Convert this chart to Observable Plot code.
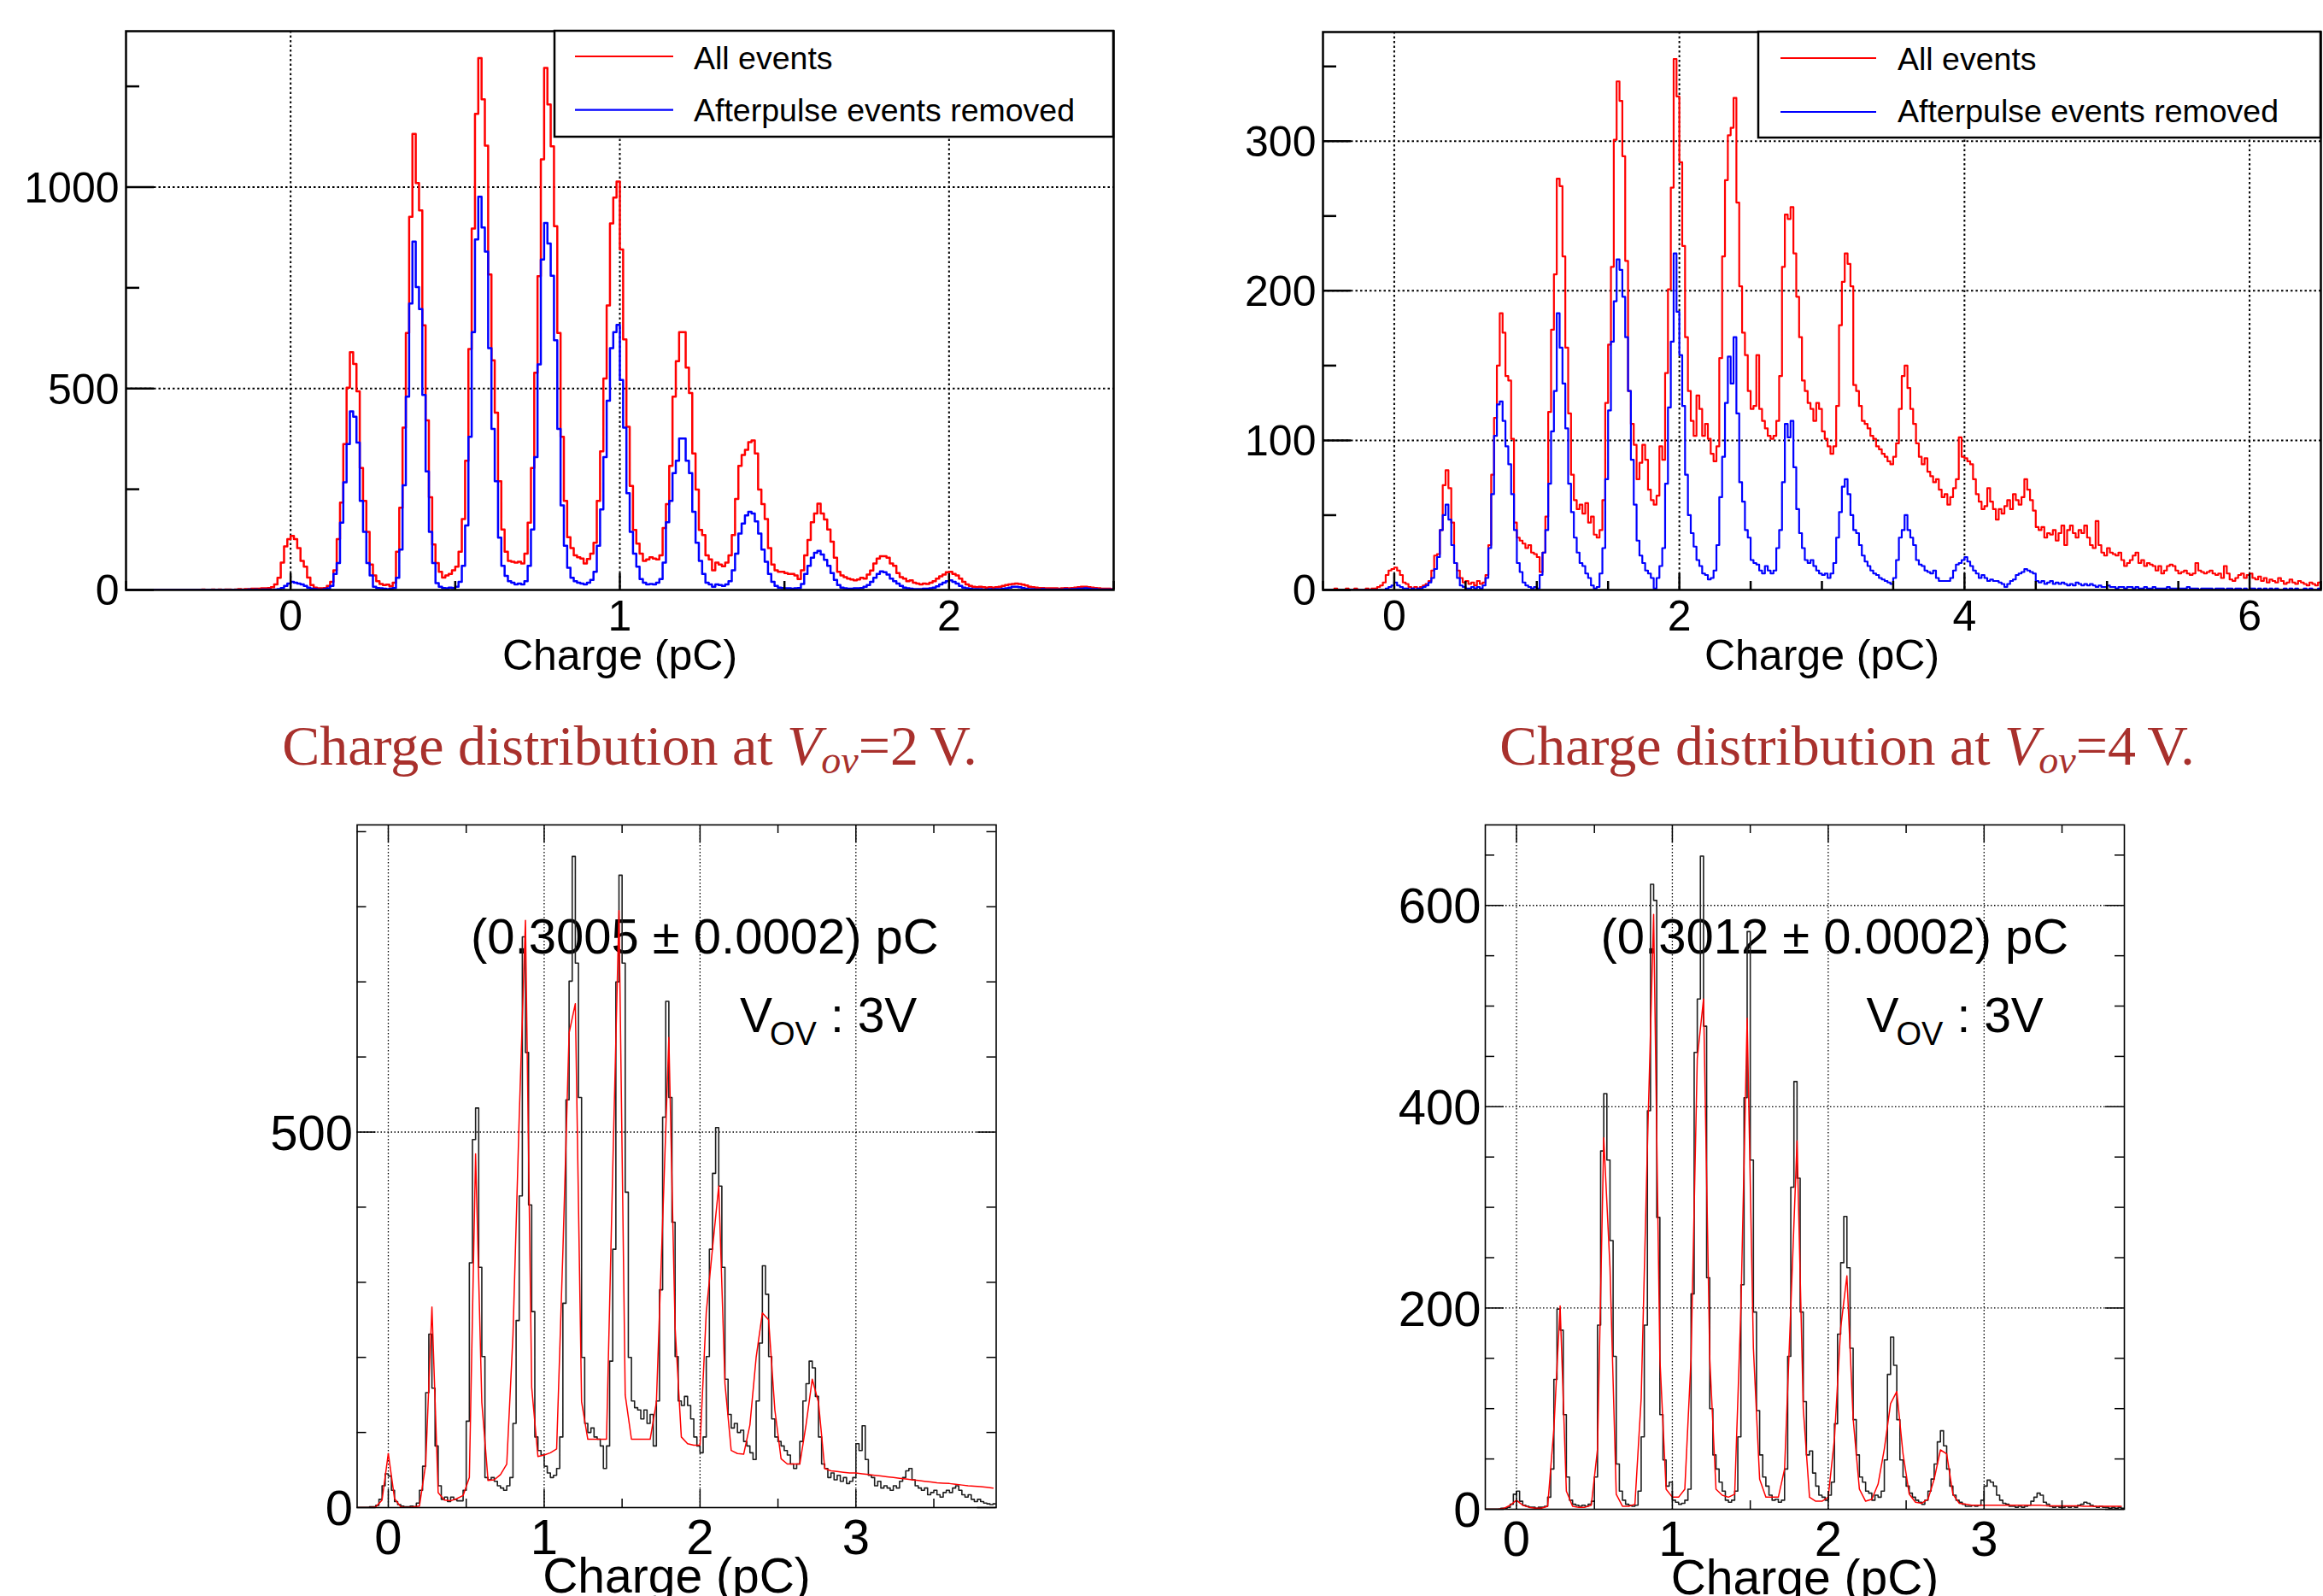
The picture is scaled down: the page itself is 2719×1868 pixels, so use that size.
<!DOCTYPE html>
<html><head><meta charset="utf-8">
<script src="https://cdn.jsdelivr.net/npm/d3@7"></script>
<script src="https://cdn.jsdelivr.net/npm/@observablehq/plot@0.6"></script>
<style>
html,body{margin:0;padding:0;background:#fff;}
#page{position:relative;width:2719px;height:1868px;overflow:hidden;background:#fff;}
</style></head><body><div id="page"></div>
<script>
// ---------------- DATA ----------------
// Top-left panel: charge histograms, bins of 0.01 pC starting at -0.5 pC
const TL_START = -0.5, TL_WIDTH = 0.01;
const tlAll = [
0,0,0,0,0,0,0,0,0,0, 0,0,0,0,0,0,0,0,0,0, 0,0,0,1,0,0,1,0,1,0, 1,1,0,1,2,1,2,2,3,3,
3,4,4,5,7,14,30,68,108,126, 134,126,104,72,58,31,12,6,4,4, 5,10,20,49,126,217,362,502,590,561,
493,303,221,144,63,36,22,15,12,13, 9,18,95,204,403,638,926,1132,1010,942, 657,421,230,113,67,45,31,36,40,49,
58,95,176,321,598,897,1182,1320,1218,1103, 783,570,440,270,150,95,72,70,68,70, 66,90,167,303,539,779,1069,1296,1205,1101,
903,638,380,221,131,104,86,81,78,66, 77,90,117,221,344,525,706,910,974,1014, 845,622,405,258,149,115,90,72,76,81,
78,76,86,154,213,308,480,568,640,640, 552,489,339,249,149,136,86,76,49,68, 63,59,68,86,136,226,308,335,348,367,
371,339,249,213,176,104,63,49,45,45, 42,40,40,36,27,49,86,124,168,190, 214,190,175,150,120,80,45,36,32,28,
26,24,26,30,28,38,48,66,78,84, 84,80,66,60,42,32,28,22,24,18, 16,14,16,15,18,22,28,34,38,44,
45,40,36,28,20,14,10,8,7,8, 7,6,7,6,7,8,10,12,14,15, 16,15,13,11,8,7,6,5,5,4,
4,4,4,3,4,5,4,5,6,7, 8,8,7,6,5,4,3,3,3,2];
const tlRemoved = [
0,0,0,0,0,0,0,0,0,0, 0,0,0,0,0,0,0,0,0,0, 0,0,0,0,0,0,0,0,0,0, 0,0,0,0,0,0,0,1,0,1,
0,1,1,1,0,1,2,5,10,16, 20,18,16,14,10,6,3,2,1,1, 2,4,10,40,67,167,267,362,443,430,
366,221,144,67,36,8,5,4,3,2, 3,5,30,100,260,480,711,865,752,697, 484,294,144,67,17,8,5,4,6,5,
8,20,60,160,380,640,870,976,900,840, 600,400,270,130,60,35,22,18,14,16, 14,22,60,150,330,560,820,911,860,780,
620,400,210,110,55,30,22,18,16,14, 18,25,45,110,200,330,470,600,640,658, 521,403,240,144,90,58,27,18,14,15,
14,18,27,68,168,221,290,321,376,376, 321,290,194,117,72,40,18,14,8,14, 12,10,14,22,49,90,140,165,185,194,
190,170,140,100,70,40,20,10,6,5, 4,4,3,4,5,15,40,60,80,92, 97,88,75,60,42,25,12,6,4,3,
3,4,4,5,8,12,20,30,40,46, 44,38,28,22,16,10,6,4,3,2, 2,2,3,3,4,6,9,14,18,22,
24,20,16,10,6,4,3,2,2,2, 1,1,2,1,2,2,3,4,6,8, 8,7,5,3,2,2,1,1,2,1,
1,1,1,1,1,2,1,2,2,3, 3,4,3,2,2,1,1,1,1,1];

// Top-right panel: bins of 0.02 pC starting at -0.5 pC
const TR_START = -0.5, TR_WIDTH = 0.02;
const trAll = [
0,0,0,0,1,0,0,0,1,0, 0,1,0,0,0,1,0,1,1,2, 3,5,10,13,14,15,13,10,5,4, 2,1,2,1,2,3,4,6,13,23,
24,40,70,80,68,45,18,13,8,5, 6,4,5,3,6,4,5,10,30,77, 115,150,185,172,143,140,101,45,35,33,
31,28,30,25,24,22,12,25,49,119, 174,211,275,270,223,162,118,77,60,54, 57,51,58,45,49,37,35,40,60,125,
164,216,301,340,327,290,220,133,111,97, 74,85,97,87,67,60,57,63,96,87, 145,201,269,355,330,286,230,169,133,113,
103,130,121,103,111,101,91,86,96,155, 223,274,304,309,329,259,203,172,157,133, 121,123,157,121,113,108,103,101,103,113,
143,216,251,248,256,225,196,169,140,133, 125,121,113,125,121,106,101,96,91,96, 123,177,206,225,218,203,137,133,123,113,
111,108,103,101,96,94,91,89,86,84, 89,98,121,143,150,135,121,111,98,89, 84,88,79,76,72,74,67,62,64,57,
62,68,74,102,89,88,86,84,74,64, 59,54,56,68,59,54,47,54,51,56, 60,54,64,60,57,62,74,67,60,53,
42,40,42,35,38,37,40,33,38,43, 30,40,43,38,35,40,38,43,35,30, 28,46,30,25,23,28,25,24,23,25,
20,16,18,20,23,25,18,20,16,18, 17,16,13,16,11,13,16,17,16,13, 11,12,13,11,10,11,18,13,12,11,
12,13,11,10,11,8,16,11,7,6, 8,10,11,8,10,11,8,7,9,6, 8,5,7,6,5,8,6,4,5,7,
5,4,6,5,4,3,5,4,3,5];
const trRemoved = [
0,0,0,0,0,0,0,0,0,0, 0,0,0,0,0,0,0,0,0,0, 0,0,1,2,3,5,3,2,1,1, 0,1,0,1,1,2,3,5,8,14,
22,40,50,57,47,30,18,8,3,2, 1,1,2,1,2,1,3,8,28,64, 103,124,126,113,96,84,64,40,18,12,
5,3,2,1,2,1,10,25,40,71, 106,133,185,162,138,108,71,52,35,25, 18,16,11,8,3,1,2,11,28,74,
120,166,193,221,214,196,169,133,87,57, 33,23,18,13,11,8,1,8,16,28, 71,122,166,225,186,157,123,77,50,38,
29,20,16,11,10,7,8,13,30,62, 89,125,156,138,169,118,72,59,40,35, 20,18,17,13,11,16,13,11,13,28,
40,72,111,102,113,82,54,38,28,20, 18,20,16,13,11,10,11,8,11,18, 35,52,69,74,64,50,40,38,30,23,
19,16,13,11,10,8,7,6,5,4, 8,20,35,40,50,40,35,30,20,17, 16,13,12,11,13,8,6,6,6,6,
8,13,17,18,20,22,19,16,13,11, 8,10,8,6,7,6,6,5,4,2, 4,6,7,10,11,12,14,13,12,11,
6,5,6,4,5,6,4,5,4,5, 4,3,4,3,5,4,3,4,3,4, 3,2,3,2,2,3,2,2,1,2,
2,1,2,2,1,2,1,1,2,1, 1,2,1,1,1,1,2,1,1,1, 1,1,1,2,1,1,1,0,1,1,
1,1,0,1,1,1,0,1,1,0, 1,1,0,1,0,1,1,0,1,0, 1,0,1,0,1,0,0,1,0,1,
0,1,0,0,1,0,1,0,0,1];

// Bottom panels: bins of 0.02 pC starting at -0.2 pC
const BOT_START = -0.2, BOT_WIDTH = 0.02;
const blData = [
0,0,0,0,1,1,3,11,29,45, 42,23,8,4,2,1,1,2,1,6, 23,55,153,231,159,82,29,11,14,8,
14,11,9,9,23,115,326,490,532,320, 201,40,37,40,35,29,26,23,29,40, 112,249,415,760,606,403,261,94,76,70,
55,46,40,43,52,94,272,543,701,867, 725,546,200,112,100,106,94,91,82,52, 82,195,344,700,842,725,420,200,142,133,
130,118,130,112,124,82,142,290,520,674, 546,380,201,142,136,148,136,118,94,82, 73,94,201,344,445,506,428,320,171,124,
106,112,100,103,88,82,73,64,142,219, 322,284,201,118,94,88,82,76,70,58, 52,58,88,142,165,195,186,148,94,58,
52,40,46,37,43,35,40,32,35,40, 85,76,109,64,43,40,29,35,26,29, 26,23,29,26,35,40,49,52,37,29,
26,23,26,17,20,23,17,14,20,23, 20,26,29,23,17,14,17,11,8,11, 8,6,5,4,5];
const brData = [
0,0,0,0,0,1,1,2,5,15, 18,8,4,3,2,2,1,2,2,3, 12,40,129,199,178,94,32,9,5,4,
3,4,3,5,8,32,183,356,413,347, 267,152,45,18,9,5,4,3,4,18, 72,183,396,621,605,290,94,49,23,27,
9,7,5,6,9,20,214,454,507,649, 480,230,100,54,40,27,18,9,7,9, 18,72,223,409,574,347,196,98,54,32,
23,14,9,10,7,9,40,152,320,425, 329,196,107,54,58,36,23,14,12,9, 14,27,85,174,245,291,240,160,89,54,
32,27,18,16,9,14,12,18,49,134, 171,143,89,49,32,23,16,12,9,7, 5,9,18,30,45,67,78,63,40,23,
14,9,7,5,3,3,4,3,4,9, 23,29,27,23,14,9,6,5,3,3, 2,3,2,3,4,8,12,16,14,7,
5,3,2,3,2,2,3,2,3,2, 4,5,7,6,4,3,2,3,2,2, 1,2,1,2,1];

// Fit curves, sampled every 0.04 pC from -0.2 pC
const FIT_START = -0.2, FIT_STEP = 0.04;
const blFit = [
0,0,0,1,10,72,12,1,0,1, 2,58,267,20,10,9,12,16,40,471,
140,36,37,44,58,230,520,782,160,68, 70,73,78,340,632,671,141,91,91,91,
91,450,795,150,91,91,91,91,140,380, 626,240,94,85,83,83,260,345,428,165,
76,72,71,110,200,259,250,130,65,58, 58,58,110,171,140,52,49,48,47,46,
46,45,44,43,42,41,40,39,38,37, 36,35,34,33,32.5,32,31,30,29,28.5, 28,27,26];
const brFit = [
0,0,0,1,4,9,4,2,1,1, 3,80,202,18,3,2,2,4,60,369,
240,15,3,3,5,110,360,591,150,20, 12,12,20,150,448,507,150,20,14,12,
15,200,488,160,30,12,12,12,40,200, 366,100,12,8,8,12,70,180,232,90,
20,8,10,25,60,105,117,55,15,7, 6,10,30,59,55,15,6,5,4,4,
4,4,4,4,4,4,4,4,4,4, 3.5,3.5,3.5,3.5,3.5,3.5,3,3,3,3, 3,3,3];

// Ticks and labels
const tlXMajor = [0, 1, 2], tlXMinor = [-0.5, 0.5, 1.5, 2.5];
const tlYMajor = [0, 500, 1000], tlYMinor = [250, 750, 1250];
const trXMajor = [0, 2, 4, 6], trXMinor = [-0.5, 0.5, 1, 1.5, 2.5, 3, 3.5, 4.5, 5, 5.5, 6.5];
const trYMajor = [0, 100, 200, 300], trYMinor = [50, 150, 250, 350];
const botXMajor = [0, 1, 2, 3], botXMinor = [0.5, 1.5, 2.5, 3.5];
const blYMajor = [0, 500], blYMinor = [100, 200, 300, 400, 600, 700, 800, 900];
const brYMajor = [0, 200, 400, 600], brYMinor = [50, 100, 150, 250, 300, 350, 450, 500, 550, 650];
const legendLabels = ["All events", "Afterpulse events removed"];
const xTitle = "Charge (pC)";
const blGain = "(0.3005 \u00b1 0.0002) pC";
const brGain = "(0.3012 \u00b1 0.0002) pC";
const vovText = ["V", "OV", ": 3V"];
const captionParts = [
  {pre: "Charge distribution at ", v: "V", sub: "ov", post: "=2\u2009V."},
  {pre: "Charge distribution at ", v: "V", sub: "ov", post: "=4\u2009V."}
];

// ---------------- DRAWING ----------------
const SANS = "'Liberation Sans', Arial, Helvetica, sans-serif";
const SERIF = "'Liberation Serif', 'Times New Roman', Times, serif";
const page = document.getElementById("page");

function steps(values, start, width) {
  const pts = values.map((v, i) => ({x: start + i * width, y: v}));
  pts.push({x: start + values.length * width, y: values[values.length - 1]});
  return pts;
}
function samples(values, start, step) {
  return values.map((v, i) => ({x: start + i * step, y: v}));
}

function panel(o) {
  const {box, frame} = o;
  const mL = frame.l - box.left, mR = box.left + box.width - frame.r;
  const mT = frame.t - box.top, mB = box.top + box.height - frame.b;
  const fw = frame.r - frame.l, fh = frame.b - frame.t;
  const k = "#000";
  const marks = [];
  marks.push(Plot.ruleX(o.xGrid, {x: d => d, stroke: k, strokeWidth: o.gridW, strokeDasharray: o.gridDash}));
  marks.push(Plot.ruleY(o.yGrid, {y: d => d, stroke: k, strokeWidth: o.gridW, strokeDasharray: o.gridDash}));
  if (o.under) marks.push(...o.under);
  marks.push(...o.lines);
  const t = o.ticks;
  marks.push(Plot.ruleX(o.xMajor, {x: d => d, insetTop: fh - t.xMaj, stroke: k, strokeWidth: t.w}));
  marks.push(Plot.ruleX(o.xMinor, {x: d => d, insetTop: fh - t.xMin, stroke: k, strokeWidth: t.w}));
  marks.push(Plot.ruleY(o.yMajor, {y: d => d, insetRight: fw - t.yMaj, stroke: k, strokeWidth: t.w}));
  marks.push(Plot.ruleY(o.yMinor, {y: d => d, insetRight: fw - t.yMin, stroke: k, strokeWidth: t.w}));
  if (o.mirror) {
    marks.push(Plot.ruleX(o.xMajor, {x: d => d, insetBottom: fh - t.xMaj, stroke: k, strokeWidth: t.w}));
    marks.push(Plot.ruleX(o.xMinor, {x: d => d, insetBottom: fh - t.xMin, stroke: k, strokeWidth: t.w}));
    marks.push(Plot.ruleY(o.yMajor, {y: d => d, insetLeft: fw - t.yMaj, stroke: k, strokeWidth: t.w}));
    marks.push(Plot.ruleY(o.yMinor, {y: d => d, insetLeft: fw - t.yMin, stroke: k, strokeWidth: t.w}));
  }
  marks.push(Plot.frame({stroke: k, strokeWidth: o.frameW}));
  const L = o.labels;
  marks.push(Plot.text(o.xMajor, {x: d => d, text: d => String(d), frameAnchor: "bottom", lineAnchor: "bottom",
    textAnchor: "middle", dy: L.xDy, fontSize: L.size, fontFamily: SANS, fill: k}));
  marks.push(Plot.text(o.yMajor, {y: d => d, text: d => String(d), frameAnchor: "left", lineAnchor: "bottom",
    textAnchor: "end", dx: -L.yGap, dy: L.size * 0.358, fontSize: L.size, fontFamily: SANS, fill: k}));
  marks.push(Plot.text([xTitle], {text: d => d, frameAnchor: "bottom", lineAnchor: "bottom", textAnchor: "middle",
    dy: L.titleDy, fontSize: L.titleSize, fontFamily: SANS, fill: k}));
  const svg = Plot.plot({
    width: box.width, height: box.height,
    marginLeft: mL, marginRight: mR, marginTop: mT, marginBottom: mB,
    x: {domain: o.xDomain, axis: null},
    y: {domain: o.yDomain, axis: null},
    style: {background: "transparent", overflow: "visible", fontFamily: SANS},
    marks
  });
  svg.style.position = "absolute";
  svg.style.left = box.left + "px";
  svg.style.top = box.top + "px";
  svg.style.maxWidth = "none";
  page.appendChild(svg);
}

const topTicks = {xMaj: 19, xMin: 10, yMaj: 33, yMin: 16, w: 2.5};
const topLabels = {size: 50, xDy: 47, yGap: 8, titleDy: 93, titleSize: 50};

// Top-left
panel({
  box: {left: 0, top: 0, width: 1360, height: 820},
  frame: {l: 147, r: 1303, t: 36, b: 690},
  xDomain: [-0.5, 2.5], yDomain: [0, 1387],
  xGrid: tlXMajor, yGrid: [500, 1000], gridW: 2, gridDash: "2.5,3",
  xMajor: tlXMajor, xMinor: tlXMinor, yMajor: tlYMajor, yMinor: tlYMinor,
  ticks: topTicks, labels: topLabels, frameW: 2.5,
  lines: [
    Plot.line(steps(tlAll, TL_START, TL_WIDTH), {x: "x", y: "y", curve: "step-after", stroke: "#ff0000", strokeWidth: 2.5, clip: true}),
    Plot.line(steps(tlRemoved, TL_START, TL_WIDTH), {x: "x", y: "y", curve: "step-after", stroke: "#0000ff", strokeWidth: 2.5, clip: true})
  ]
});

// Top-right
panel({
  box: {left: 1360, top: 0, width: 1359, height: 820},
  frame: {l: 1548, r: 2716, t: 37, b: 690},
  xDomain: [-0.5, 6.5], yDomain: [0, 373],
  xGrid: trXMajor, yGrid: [100, 200, 300], gridW: 2, gridDash: "2.5,3",
  xMajor: trXMajor, xMinor: trXMinor, yMajor: trYMajor, yMinor: trYMinor,
  ticks: topTicks, labels: topLabels, frameW: 2.5,
  lines: [
    Plot.line(steps(trAll, TR_START, TR_WIDTH), {x: "x", y: "y", curve: "step-after", stroke: "#ff0000", strokeWidth: 2.2, clip: true}),
    Plot.line(steps(trRemoved, TR_START, TR_WIDTH), {x: "x", y: "y", curve: "step-after", stroke: "#0000ff", strokeWidth: 2.2, clip: true})
  ]
});

const botTicks = {xMaj: 21, xMin: 10, yMaj: 22, yMin: 11, w: 1.5};
const botLabels = {size: 58, xDy: 54, yGap: 5, titleDy: 99, titleSize: 57};

function gainMarks(gain, dxGain, dxV) {
  const base = {frameAnchor: "top-left", textAnchor: "start", lineAnchor: "bottom", fontFamily: SANS, fill: "#000"};
  return [
    Plot.text([gain], {...base, text: d => d, dx: dxGain, dy: 150, fontSize: 58}),
    Plot.text([vovText[0]], {...base, text: d => d, dx: dxV, dy: 242, fontSize: 57}),
    Plot.text([vovText[1]], {...base, text: d => d, dx: dxV + 35, dy: 257, fontSize: 38}),
    Plot.text([vovText[2]], {...base, text: d => d, dx: dxV + 106, dy: 242, fontSize: 57})
  ];
}

// Bottom-left
panel({
  box: {left: 250, top: 930, width: 1000, height: 938},
  frame: {l: 417.5, r: 1165.5, t: 965, b: 1764},
  xDomain: [-0.2, 3.9], yDomain: [0, 909],
  xGrid: botXMajor, yGrid: [500], gridW: 1.3, gridDash: "1.5,2.5",
  xMajor: botXMajor, xMinor: botXMinor, yMajor: blYMajor, yMinor: blYMinor, mirror: true,
  ticks: botTicks, labels: botLabels, frameW: 1.6,
  under: gainMarks(blGain, 133, 448),
  lines: [
    Plot.line(steps(blData, BOT_START, BOT_WIDTH), {x: "x", y: "y", curve: "step-after", stroke: "#1e1e1e", strokeWidth: 1.6, clip: true}),
    Plot.line(samples(blFit, FIT_START, FIT_STEP), {x: "x", y: "y", stroke: "#ff0000", strokeWidth: 1.5, clip: true})
  ]
});

// Bottom-right
panel({
  box: {left: 1560, top: 930, width: 1000, height: 938},
  frame: {l: 1738, r: 2486, t: 965, b: 1766},
  xDomain: [-0.2, 3.9], yDomain: [0, 680],
  xGrid: botXMajor, yGrid: [200, 400, 600], gridW: 1.3, gridDash: "1.5,2.5",
  xMajor: botXMajor, xMinor: botXMinor, yMajor: brYMajor, yMinor: brYMinor, mirror: true,
  ticks: botTicks, labels: botLabels, frameW: 1.6,
  under: gainMarks(brGain, 135, 446),
  lines: [
    Plot.line(steps(brData, BOT_START, BOT_WIDTH), {x: "x", y: "y", curve: "step-after", stroke: "#1e1e1e", strokeWidth: 1.6, clip: true}),
    Plot.line(samples(brFit, FIT_START, FIT_STEP), {x: "x", y: "y", stroke: "#ff0000", strokeWidth: 1.5, clip: true})
  ]
});

// Overlay: legends and captions
const ov = d3.create("svg").attr("width", 2719).attr("height", 1868)
  .style("position", "absolute").style("left", "0px").style("top", "0px").style("overflow", "visible");

function legend(x, y, w, h, lx1, lx2, tx, rows) {
  const g = ov.append("g");
  g.append("rect").attr("x", x).attr("y", y).attr("width", w).attr("height", h)
    .attr("fill", "#fff").attr("stroke", "#000").attr("stroke-width", 2.5);
  rows.forEach(r => {
    g.append("line").attr("x1", lx1).attr("x2", lx2).attr("y1", r.ly).attr("y2", r.ly)
      .attr("stroke", r.color).attr("stroke-width", 2.2);
    g.append("text").attr("x", tx).attr("y", r.by).attr("font-family", SANS).attr("font-size", 37.5)
      .attr("fill", "#000").text(r.label);
  });
}
legend(649, 36, 654, 124, 673, 788, 812, [
  {label: legendLabels[0], color: "#ff0000", ly: 66, by: 80.5},
  {label: legendLabels[1], color: "#0000ff", ly: 128.6, by: 142}
]);
legend(2058, 37, 658, 124, 2084, 2196, 2221, [
  {label: legendLabels[0], color: "#ff0000", ly: 68, by: 82},
  {label: legendLabels[1], color: "#0000ff", ly: 131, by: 143}
]);

function caption(cx, by, p) {
  const t = ov.append("text").attr("x", cx).attr("y", by).attr("text-anchor", "middle")
    .attr("font-family", SERIF).attr("font-size", 66).attr("fill", "#a8302c");
  t.append("tspan").text(p.pre);
  t.append("tspan").attr("font-style", "italic").text(p.v);
  t.append("tspan").attr("font-style", "italic").attr("font-size", 46).attr("dy", 10).text(p.sub);
  t.append("tspan").attr("dy", -10).text(p.post);
}
caption(737, 895, captionParts[0]);
caption(2162, 895, captionParts[1]);

page.appendChild(ov.node());
</script></body></html>
